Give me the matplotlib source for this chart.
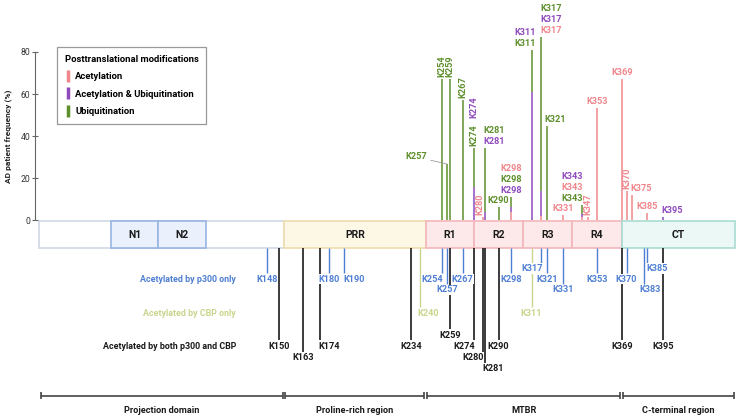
import numpy as np
import matplotlib
matplotlib.use("Agg")
from matplotlib import pyplot as plt
from matplotlib.lines import Line2D

plt.rcParams['font.family'] = ['Roboto', 'DejaVu Sans']

# dominios da proteina tau (residuo inicial, residuo final)
domain_names = ['', 'PRR', 'R1', 'R2', 'R3', 'R4', 'CT']
domain_start = [1, 151, 244, 275, 306, 337, 369]
domain_end = [150, 243, 274, 305, 336, 368, 441]
nterm_names = ['N1', 'N2']
nterm_start = [45, 74]
nterm_end = [73, 102]

region_names = ['Projection domain', 'Proline-rich region', 'MTBR', 'C-terminal region']
region_start = [1, 151, 244, 369]
region_end = [150, 243, 368, 441]

# frequencia em pacientes AD (%) por tipo de modificacao
top_res = [254, 257, 259, 267, 274, 280, 281, 290, 298, 311, 317, 321, 331, 343, 347, 353, 369, 370, 375, 385, 395]
freq_ac = [0, 0, 0, 0, 0, 1.6, 0, 0, 4.0, 0, 2.0, 0, 2.4, 1.5, 1.5, 53.5, 67.1, 14.0, 11.9, 3.5, 0]
freq_acub = [0, 0, 0, 0, 15.9, 0, 4.0, 0, 2.3, 60.8, 12.0, 0, 0, 1.3, 0, 0, 0, 0, 0, 0, 1.6]
freq_ub = [67.1, 26.7, 67.1, 57.1, 18.4, 0, 30.4, 6.2, 4.8, 20.2, 73.3, 44.8, 0, 4.3, 0, 0, 0, 0, 0, 0, 0]
# ordem dos rotulos, de baixo para cima
top_order = ['ub', 'ub', 'ub', 'ub', 'ub acub', 'ac', 'acub ub', 'ub', 'acub ub ac', 'ub acub',
             'ac acub ub', 'ub', 'ac', 'ub ac acub', 'ac', 'ac', 'ac', 'ac', 'ac', 'ac', 'acub']

# acetilacao por enzima
p300_res = [148, 180, 190, 254, 257, 267, 298, 317, 321, 331, 353, 370, 383, 385]
cbp_res = [240, 311]
both_res = [150, 163, 174, 234, 259, 274, 280, 281, 290, 369, 395]

legend_labels = ['Acetylation', 'Acetylation & Ubiquitination', 'Ubiquitination']

# cores
PINK = '#f0868c'
PURPLE = '#8f4bbd'
GREEN = '#5e8f2c'
BLUE = '#4f7fd3'
YGREEN = '#c8d68c'
BLACK = '#1a1a1a'
mod_color = {'ac': PINK, 'acub': PURPLE, 'ub': GREEN}

# layout (pixels)
W, H = 739, 419
Y0 = 220.0      # linha do 0 %
PPU = 2.1       # pixels por %
BAR_TOP, BAR_BOT = 221, 248


def yv(ypx):
    return (Y0 - ypx) / PPU


rotated = {254, 259, 267, 274, 280, 347, 370}
top_ha = {280: ('center', -3.5), 281: ('left', -1.5), 311: ('center', -6), 317: ('left', -1),
          321: ('left', -3), 343: ('right', 1), 375: ('left', -1), 395: ('left', -1.5)}
x_nudge = {148: -13, 150: -4, 370: 2.5}

p300_row = [1, 1, 1, 1, 2, 1, 1, 0, 1, 2, 1, 1, 2, 0]
both_row = [1, 2, 1, 1, 0, 1, 2, 3, 1, 1, 1]
p300_ha = {190: ('left', -1), 254: ('right', 1), 317: ('right', 2), 385: ('left', -1), 383: ('center', 6)}
both_ha = {174: ('left', -1), 274: ('right', 1), 280: ('right', 0.5), 281: ('left', -2)}
cbp_ha = {240: ('left', -3)}

# escala do eixo x: residuo -> pixel (por trechos)
knot_res = [-60, 1, 151, 244, 369, 442, 520]
knot_px = [39.3 - 61 * 1.633, 39.3, 284, 425.7, 621.7, 735, 735 + 78 * 1.56]


def fwd(r):
    return np.interp(r, knot_res, knot_px)


def inv(p):
    return np.interp(p, knot_px, knot_res)


def xpos(r):
    return inv(fwd(r + 0.5) + x_nudge.get(r, 0))


fig = plt.figure(figsize=(W / 100, H / 100), dpi=100)
ax = fig.add_axes([35 / W, 0, 1 - 35 / W, 1])
ax.set_xscale('function', functions=(fwd, inv))
ax.set_xlim(inv(35), inv(W))
ax.set_ylim(yv(H), yv(0))

# barra de dominios
bar_b = yv(BAR_BOT)
bar_h = yv(BAR_TOP) - yv(BAR_BOT)
fills = ['white', '#fdf7e6', '#fde9ea', '#fde9ea', '#fde9ea', '#fde9ea', '#ebf8f5']
edges = ['#cfd8e6', '#f0dcae', '#f2b6bb', '#f2b6bb', '#f2b6bb', '#f2b6bb', '#a9dbd2']
for name, s, e, fc, ec in zip(domain_names, domain_start, domain_end, fills, edges):
    ax.bar(s, bar_h, width=e + 1 - s, bottom=bar_b, align='edge', color=fc, edgecolor=ec, linewidth=1.2)
    if name:
        ax.text(inv((fwd(s) + fwd(e + 1)) / 2), yv(234.5), name, ha='center', va='center',
                fontsize=7.5, fontweight='bold', color=BLACK)
for name, s, e in zip(nterm_names, nterm_start, nterm_end):
    ax.bar(s, bar_h, width=e + 1 - s, bottom=bar_b, align='edge', color='#eaf1fc', edgecolor='#98b5e3', linewidth=1.2)
    ax.text(inv((fwd(s) + fwd(e + 1)) / 2), yv(234.5), name, ha='center', va='center',
            fontsize=7.5, fontweight='bold', color=BLACK)

# hastes superiores
for i, r in enumerate(top_res):
    x = xpos(r)
    segs = [('ac', freq_ac[i]), ('acub', freq_acub[i]), ('ub', freq_ub[i])]
    base = 0
    for key, v in segs:
        if v > 0:
            ax.vlines(x, base, base + v, color=mod_color[key], lw=1.1)
            base += v
    top = base
    keys = top_order[i].split()
    if r == 257:
        ax.annotate('K257', xy=(x, top), xytext=(-31, 7), textcoords='offset pixels',
                    ha='center', va='center', fontsize=6.6, fontweight='bold', color=GREEN,
                    arrowprops=dict(arrowstyle='-', color='#999999', lw=0.6, shrinkA=1, shrinkB=0))
        continue
    ha, dx = top_ha.get(r, ('center', 0))
    for j, key in enumerate(keys):
        if r in rotated:
            ax.annotate(f'K{r}', xy=(x, top), xytext=(dx, 2 + j * 28), textcoords='offset pixels',
                        rotation=90, ha='center', va='bottom', fontsize=6.6, fontweight='bold',
                        color=mod_color[key])
        else:
            ax.annotate(f'K{r}', xy=(x, top), xytext=(dx, 6.5 + j * 11), textcoords='offset pixels',
                        ha=ha, va='center', fontsize=6.6, fontweight='bold', color=mod_color[key])


# linhas inferiores
def lower(res, rows, base_y, step, color, ha_map, lw):
    for r, row in zip(res, rows):
        x = xpos(r)
        ly = base_y + row * step
        ax.vlines(x, yv(BAR_BOT), yv(ly - 6), color=color, lw=lw, zorder=2)
        ha, dx = ha_map.get(r, ('center', 0))
        ax.annotate(f'K{r}', xy=(x, yv(ly)), xytext=(dx, 0), textcoords='offset pixels',
                    ha=ha, va='center', fontsize=6.6, fontweight='bold', color=color, zorder=4,
                    bbox=dict(facecolor='white', edgecolor='none', pad=0.4))


lower(p300_res, p300_row, 268.5, 10.7, BLUE, p300_ha, 1.0)
lower(cbp_res, [0] * len(cbp_res), 313, 0, YGREEN, cbp_ha, 1.0)
lower(both_res, both_row, 335.3, 11.1, BLACK, both_ha, 1.2)

row_titles = ['Acetylated by p300 only', 'Acetylated by CBP only', 'Acetylated by both p300 and CBP']
row_y = [279, 313, 346.7]
row_col = [BLUE, YGREEN, BLACK]
for t, y, c in zip(row_titles, row_y, row_col):
    fig.text(236 / W, 1 - y / H, t, ha='right', va='center', fontsize=6.4, fontweight='bold', color=c)

# regioes (colchetes)
cap = 3.6 / PPU
for name, s, e in zip(region_names, region_start, region_end):
    x0, x1 = s + 0.8, e + 0.2
    yb = yv(395.7)
    ax.hlines(yb, x0, x1, color='#444444', lw=1.2)
    ax.vlines([x0, x1], yb - cap, yb + cap, color='#444444', lw=1.2)
    ax.text(inv((fwd(x0) + fwd(x1)) / 2), yv(410.7), name, ha='center', va='center',
            fontsize=6.6, fontweight='bold', color=BLACK)

# eixo y
for sp in ['top', 'right', 'bottom']:
    ax.spines[sp].set_visible(False)
ax.spines['left'].set_bounds(0, 80)
ax.spines['left'].set_color('#666666')
ax.spines['left'].set_linewidth(0.8)
ax.set_xticks([])
ax.set_yticks([0, 20, 40, 60, 80])
ax.tick_params(axis='y', direction='inout', length=4.5, width=0.8, color='#666666',
               labelsize=6.2, labelcolor='#333333', pad=1)
ax.set_ylabel('AD patient frequency (%)', fontsize=6, fontweight='bold', color='#222222')
ax.yaxis.set_label_coords(-23 / (W - 35), 1 - 136 / H)

# legenda
handles = [Line2D([], [], color=c, marker='|', linestyle='None', markersize=9, markeredgewidth=2.5)
           for c in [PINK, PURPLE, GREEN]]
leg = fig.legend(handles, legend_labels, loc='upper left', bbox_to_anchor=(57 / W, 1 - 47 / H),
                 frameon=True, fancybox=False, edgecolor='#999999', framealpha=1,
                 title='Posttranslational modifications',
                 title_fontproperties={'weight': 'bold', 'size': 6.8},
                 prop={'weight': 'bold', 'size': 6.8}, alignment='left',
                 handlelength=0.7, handletextpad=0.45, borderpad=0.8, labelspacing=0.9,
                 borderaxespad=0)
leg.get_frame().set_linewidth(0.9)

fig.savefig('out.png', dpi=100)
